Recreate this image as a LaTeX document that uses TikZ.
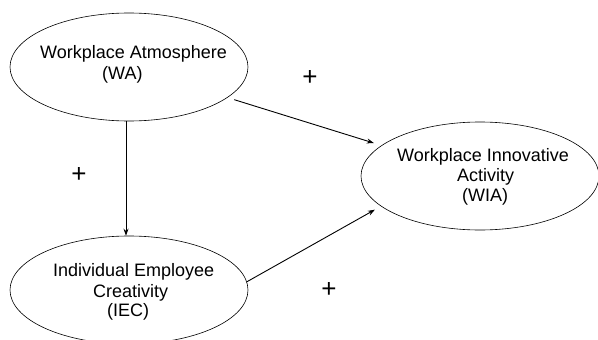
\documentclass[tikz,border=0pt]{standalone}
\usepackage{fontspec}
\setmainfont{Liberation Sans}
\usetikzlibrary{shapes.geometric,arrows.meta}
\tikzset{
  construct/.style={draw, ellipse, line width=0.6pt, minimum width=238pt, minimum height=108pt, inner sep=0pt},
  txt/.style={anchor=base west, inner sep=0pt, font=\fontsize{18}{20}\selectfont},
  plus/.style={inner sep=0pt, font=\fontsize{26}{26}\selectfont},
  link/.style={line width=0.9pt, -{Stealth[length=7pt,width=5pt]}}
}
\begin{document}
\begin{tikzpicture}[x=1pt,y=-1pt]
\useasboundingbox (0,0) rectangle (598,340);
\node[construct] (WA) at (129,67) {};
\node[construct] (WIA) at (480,176) {};
\node[construct] (IEC) at (129,290) {};
% texts
\node[txt] (wa1) at (40,58) {Workplace Atmosphere};
\node[txt] (wa2) at (102,79) {(WA)};
\node[txt] (wia1) at (397,161.5) {Workplace Innovative};
\node[txt] (wia2) at (457,181.5) {Activity};
\node[txt] (wia3) at (462,201.5) {(WIA)};
\node[txt] (iec1) at (53,276.5) {Individual Employee};
\node[txt] (iec2) at (93,297) {Creativity};
\node[txt] (iec3) at (107,316.5) {(IEC)};
% connectors
\draw[link, shorten <=7pt, shorten >=8pt] (WA) -- (WIA);
\draw[link] ([xshift=-3pt]WA.south) -- ([xshift=-3pt]IEC.north);
\draw[link, shorten >=7pt] (IEC.4) -- (WIA.197);
% signs
\node[plus] (p1) at (310,78) {+};
\node[plus] (p2) at (79,175) {+};
\node[plus] (p3) at (329,290) {+};
\end{tikzpicture}
\end{document}
